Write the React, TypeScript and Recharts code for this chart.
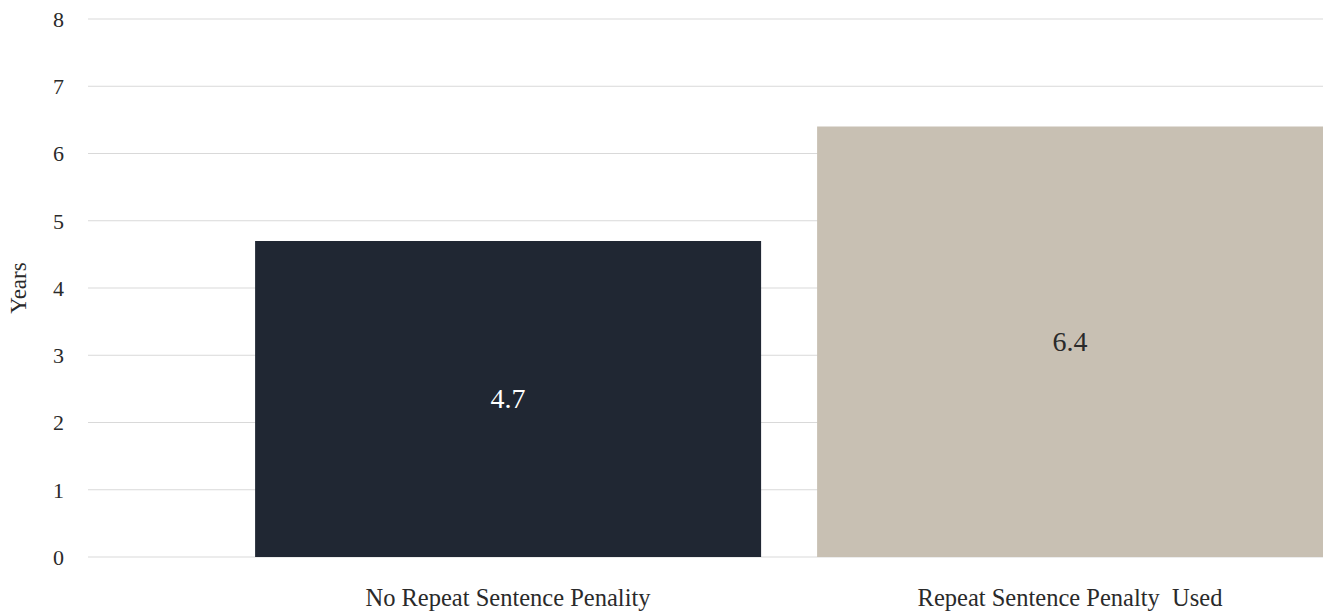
import { BarChart, Bar, XAxis, YAxis, CartesianGrid, Cell, LabelList } from "recharts";

const categories = ["No Repeat Sentence Penality", "Repeat Sentence Penalty  Used"];
const years = [4.7, 6.4];
const barColors = ["#202733", "#c8c0b3"];
const labelColors = ["#ffffff", "#2a2a2a"];
const yTicks = [0, 1, 2, 3, 4, 5, 6, 7, 8];

const FONT = "Liberation Serif, serif";

const data = categories.map((name, i) => ({ name, value: years[i] }));

// value printed in the middle of each bar
const ValueLabel = (props: any) => {
    const { x, y, width, height, value, index } = props;
    return (
        <text
            x={x + width / 2}
            y={y + height / 2 + 9}
            textAnchor="middle"
            style={{ fill: labelColors[index], fontSize: 28, fontFamily: FONT }}
        >
            {Number(value).toFixed(1)}
        </text>
    );
};

// category tick drawn as-is so the spacing inside the name is kept
const CategoryTick = (props: any) => {
    const { x, y, payload } = props;
    return (
        <text
            x={x}
            y={y + 17}
            textAnchor="middle"
            style={{ fill: "#2a2a2a", fontSize: 24.5, fontFamily: FONT, whiteSpace: "pre" }}
        >
            {payload.value}
        </text>
    );
};

export default function App() {
    return (
        <div
            style={{
                position: "absolute",
                left: 0,
                top: 0,
                width: 1323,
                height: 611,
                overflow: "hidden",
                background: "#fff",
                fontFamily: FONT,
            }}
        >
            <BarChart
                width={1360}
                height={611}
                data={data}
                margin={{ top: 19, right: 9, bottom: 0, left: 0 }}
                barCategoryGap="5%"
            >
                <CartesianGrid vertical={false} stroke="#d9d9d9" />
                <XAxis
                    dataKey="name"
                    axisLine={false}
                    tickLine={false}
                    tickSize={0}
                    tickMargin={32}
                    height={54}
                    padding={{ left: 139, right: 0 }}
                    tick={<CategoryTick />}
                />
                <YAxis
                    domain={[0, 8]}
                    ticks={yTicks}
                    width={88}
                    axisLine={false}
                    tickLine={false}
                    tickSize={0}
                    tickMargin={24}
                    tick={{ fill: "#2a2a2a", fontSize: 22, fontFamily: FONT }}
                    label={{
                        value: "Years",
                        angle: -90,
                        position: "insideLeft",
                        offset: 18,
                        style: { textAnchor: "middle", fill: "#2a2a2a", fontSize: 23, fontFamily: FONT },
                    }}
                />
                <Bar dataKey="value" isAnimationActive={false}>
                    {data.map((d, i) => (
                        <Cell key={d.name} fill={barColors[i]} />
                    ))}
                    <LabelList dataKey="value" content={ValueLabel} />
                </Bar>
            </BarChart>
        </div>
    );
}
